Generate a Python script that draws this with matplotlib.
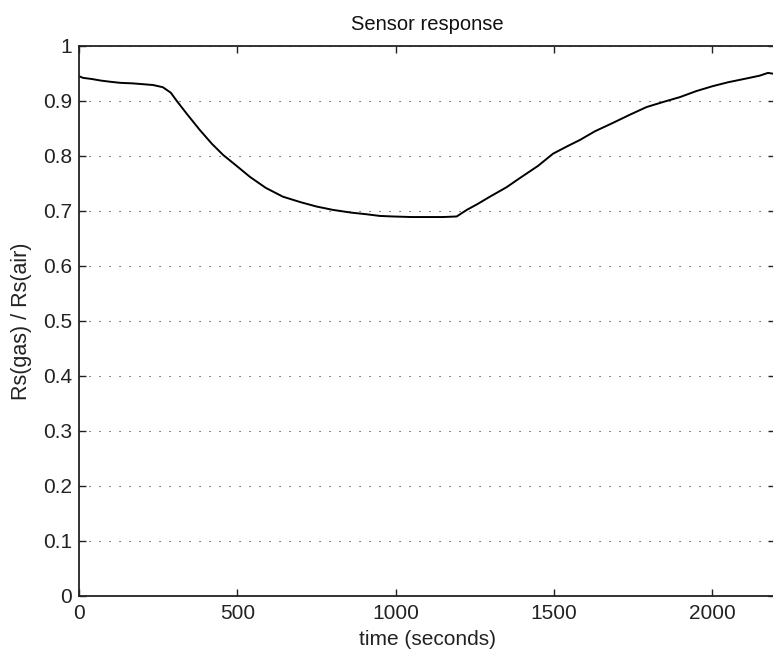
import matplotlib
matplotlib.use("Agg")
import matplotlib.pyplot as plt

# Sensor resistance ratio over time
time_s = [0, 13, 40, 70, 98, 130, 170, 234, 265, 290, 309, 340, 382, 420, 455,
          500, 540, 590, 644, 700, 751, 802, 860, 909, 950, 992, 1050, 1100,
          1150, 1193, 1225, 1260, 1298, 1350, 1393, 1450, 1497, 1540, 1582,
          1630, 1686, 1740, 1793, 1850, 1898, 1950, 2002, 2050, 2109, 2150,
          2176, 2200]
ratio = [0.945, 0.942, 0.940, 0.937, 0.935, 0.933, 0.932, 0.929, 0.925, 0.915,
         0.900, 0.877, 0.847, 0.822, 0.802, 0.781, 0.762, 0.742, 0.726, 0.716,
         0.708, 0.702, 0.697, 0.694, 0.691, 0.690, 0.689, 0.689, 0.689, 0.690,
         0.702, 0.713, 0.726, 0.743, 0.760, 0.782, 0.804, 0.817, 0.829, 0.845,
         0.860, 0.875, 0.889, 0.899, 0.907, 0.918, 0.927, 0.934, 0.941, 0.946,
         0.951, 0.949]

x_ticks = [0, 500, 1000, 1500, 2000]
y_ticks = [0, 0.1, 0.2, 0.3, 0.4, 0.5, 0.6, 0.7, 0.8, 0.9, 1]
y_tick_labels = ["0", "0.1", "0.2", "0.3", "0.4", "0.5", "0.6", "0.7", "0.8", "0.9", "1"]

plt.rcParams["font.family"] = ["Liberation Sans", "DejaVu Sans"]
plt.rcParams["font.size"] = 15

fig = plt.figure(figsize=(7.73, 6.54), dpi=100)
ax = fig.add_axes([0.1022, 0.0887, 0.901, 0.841])

ax.plot(time_s, ratio, color="black", linewidth=1.4)

ax.set_xlim(0, 2200)
ax.set_ylim(0, 1)
ax.set_xticks(x_ticks)
ax.set_yticks(y_ticks)
ax.set_yticklabels(y_tick_labels)

ax.yaxis.grid(True, linestyle=(0, (1, 8)), linewidth=0.8, color="#333333")
ax.xaxis.grid(False)

ax.tick_params(direction="in", length=5, width=1.0, top=True, right=True,
               colors="#222222", labelsize=15)
ax.tick_params(axis="x", pad=6)
ax.tick_params(axis="y", pad=5)
for side in ax.spines.values():
    side.set_linewidth(1.3)
    side.set_color("#222222")

ax.set_title("Sensor response", fontsize=14.5, pad=11.5, color="#111111")
ax.set_xlabel("time (seconds)", fontsize=15, labelpad=4.5, color="#222222")
ax.set_ylabel("Rs(gas) / Rs(air)", fontsize=15.5, labelpad=8, color="#222222")

fig.savefig("out.png", dpi=100, facecolor="white")
